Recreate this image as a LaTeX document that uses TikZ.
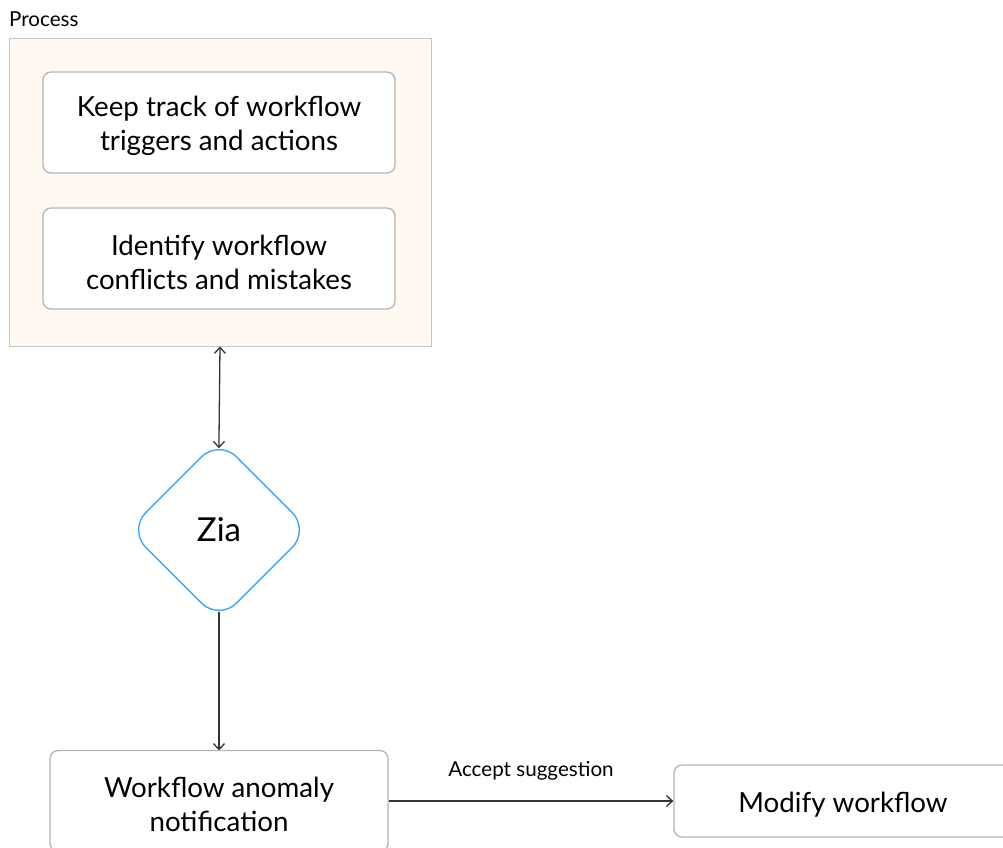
\documentclass[tikz,border=0pt]{standalone}
\usepackage{fontspec}
\setmainfont{Lato}
\usetikzlibrary{positioning,arrows.meta,shapes.geometric}
\definecolor{procfill}{HTML}{FFF9F2}
\definecolor{procline}{HTML}{C6C6C6}
\definecolor{boxline}{HTML}{B4B4B4}
\definecolor{ziablue}{HTML}{42A5F5}
\definecolor{linkcol}{HTML}{333333}

\begin{document}
\begin{tikzpicture}[
  x=1pt, y=-1pt,
  every node/.style={font=\fontsize{27.7}{34}\selectfont, text=black},
  procbox/.style={draw=procline, fill=procfill, line width=0.9pt, minimum width=422pt, minimum height=308pt, inner sep=0pt},
  stepbox/.style={draw=boxline, fill=white, line width=1.3pt, rounded corners=8pt, minimum width=352pt, minimum height=101pt, inner sep=2pt},
  steptext/.style={align=center, yshift=-3.5pt, inner sep=0pt},
  ziabox/.style={diamond, aspect=1, draw=ziablue, fill=white, line width=1.4pt, rounded corners=25pt, minimum width=182pt, minimum height=182pt, inner sep=0pt, font=\fontsize{33}{38}\selectfont},
  small/.style={font=\fontsize{20.6}{24}\selectfont},
  link/.style={draw=linkcol, line width=1.3pt, -{Straight Barb[length=6pt,width=11pt]}},
]
\useasboundingbox (0,0) rectangle (1003,847);

% ── process group ──
\node[procbox] (proc) at (220,192) {};
\node[small, anchor=west, inner sep=0pt] (proclbl) at (9,19) {Process};

\node[stepbox, label={[steptext]center:{Keep track of workflow\\triggers and actions}}] (track) at (219,122.5) {};
\node[stepbox, label={[steptext]center:{Identify workflow\\conflicts and mistakes}}] (identify) at (219,258.5) {};

% ── Zia ──
\node[ziabox] (zia) at (219,530) {Zia};

\draw[link, {Straight Barb[length=6pt,width=11pt]}-{Straight Barb[length=6pt,width=11pt]}, shorten >=-10pt] (proc.south) -- (zia.north);
\draw[link, shorten <=-10pt] (zia.south) -- (219,750.5) coordinate (anomtop);

% ── outcome ──
\node[stepbox, minimum width=338pt, minimum height=101pt,
      label={[steptext]center:{Workflow anomaly\\notification}}] (anomaly) at (219,801) {};
\node[stepbox, minimum width=338pt, minimum height=72pt,
      label={[steptext]center:{Modify workflow}}] (modify) at (843,801) {};

\draw[link] (anomaly) -- node[small, above=17pt] (acclbl) {Accept suggestion} (modify);

\end{tikzpicture}
\end{document}
